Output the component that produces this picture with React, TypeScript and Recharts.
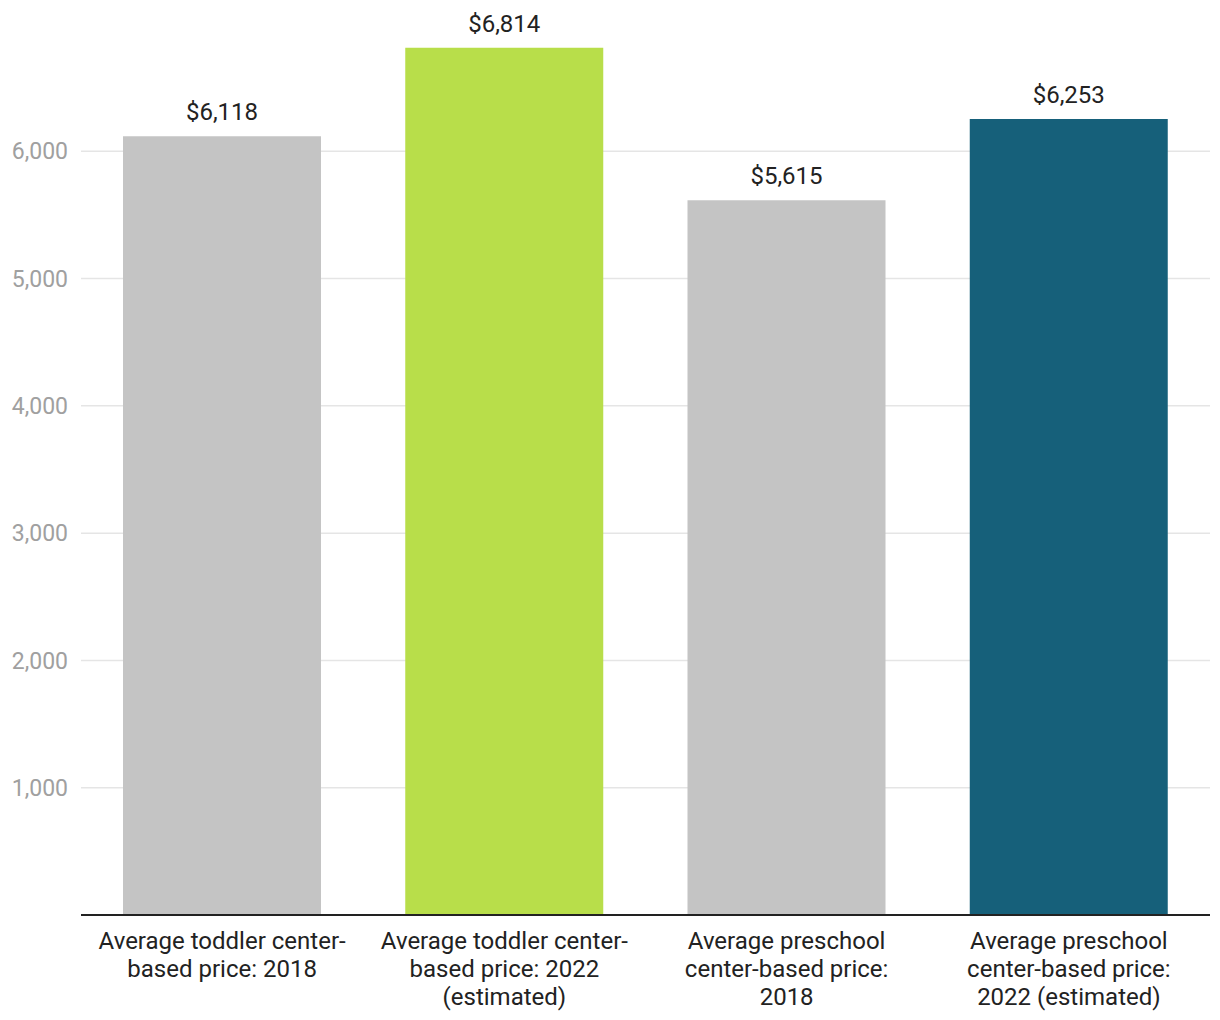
import React from "react";
import { BarChart, Bar, XAxis, YAxis, CartesianGrid, Cell, LabelList } from "recharts";

const categories = [
  "Average toddler center-based price: 2018",
  "Average toddler center-based price: 2022 (estimated)",
  "Average preschool center-based price: 2018",
  "Average preschool center-based price: 2022 (estimated)",
];
const categoryLines = [
  ["Average toddler center-", "based price: 2018"],
  ["Average toddler center-", "based price: 2022", "(estimated)"],
  ["Average preschool", "center-based price:", "2018"],
  ["Average preschool", "center-based price:", "2022 (estimated)"],
];
const values = [6118, 6814, 5615, 6253];
const colors = ["#c4c4c4", "#b8de4a", "#c4c4c4", "#16607a"];
const yTicks = [1000, 2000, 3000, 4000, 5000, 6000];

const data = categories.map((c, i) => ({ name: c, value: values[i], idx: i }));

const FONT = "Roboto, 'Noto Sans', sans-serif";

const XTick = (props: any) => {
  const { x, y, payload } = props;
  const idx = categories.indexOf(payload.value);
  const lines = categoryLines[idx] || [payload.value];
  return (
    <g transform={`translate(${x},${y})`}>
      {lines.map((l, i) => (
        <text
          key={i}
          x={0}
          y={i * 28}
          dy={25.5}
          textAnchor="middle"
          fill="#222"
          fontSize={24}
          fontFamily={FONT}
        >
          {l}
        </text>
      ))}
    </g>
  );
};

export default function App() {
  return (
    <div style={{ margin: "-8px 0 0 -8px", width: 1220, height: 1020, background: "#fff" }}>
      <BarChart
        width={1220}
        height={1020}
        data={data}
        margin={{ top: 24, right: 10, bottom: 0, left: 0 }}
        barCategoryGap="15%"
      >
        <CartesianGrid
          vertical={false}
          stroke="#e5e5e5"
          strokeWidth={1.5}
          horizontalValues={yTicks}
        />
        <XAxis
          dataKey="name"
          tick={<XTick />}
          tickLine={false}
          axisLine={{ stroke: "#222", strokeWidth: 2 }}
          height={105}
          interval={0}
        />
        <YAxis
          width={81}
          domain={[0, 7000]}
          ticks={yTicks}
          tickLine={false}
          axisLine={false}
          tickMargin={7}
          tick={{ fill: "#a0a0a0", fontSize: 23, fontFamily: FONT }}
          tickFormatter={(v: number) => v.toLocaleString("en-US")}
        />
        <Bar dataKey="value" barSize={198} isAnimationActive={false}>
          {data.map((d, i) => (
            <Cell key={i} fill={colors[i]} />
          ))}
          <LabelList
            dataKey="value"
            position="top"
            offset={16}
            fill="#222"
            fontSize={24}
            fontFamily={FONT}
            formatter={(v: number) => "$" + v.toLocaleString("en-US")}
          />
        </Bar>
      </BarChart>
    </div>
  );
}
